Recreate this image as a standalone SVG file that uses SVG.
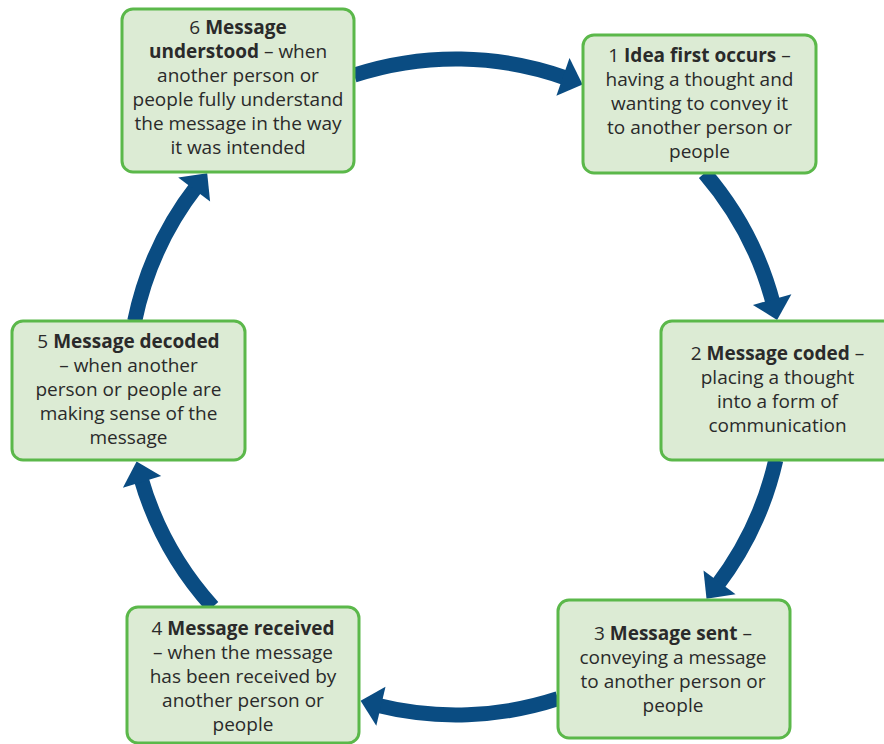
<svg xmlns="http://www.w3.org/2000/svg" width="884" height="744" viewBox="0 0 884 744">
<style>
.box{fill:#dcebd4;stroke:#5bb84a;stroke-width:3}
.t{font-family:"Open Sans","Noto Sans",sans-serif;font-size:19px;fill:#2a2a2a;text-anchor:middle}
.b{font-weight:bold}
.shaft{fill:none;stroke:#0a4c82;stroke-width:15}
.head{fill:#0a4c82}
</style>
<rect width="884" height="744" fill="#ffffff"/>
<g id="connectors">
<path class="shaft" d="M354.1 75.2 A328 328 0 0 1 567.7 78.6"/>
<polygon class="head" points="582.6,84.4 569.5,58.0 556.4,95.8"/>
<path class="shaft" d="M704.6 173 A328 328 0 0 1 773.4 304.4"/>
<polygon class="head" points="777.1,320.0 791.4,294.3 752.9,304.9"/>
<path class="shaft" d="M775.8 460 A328 328 0 0 1 716.6 586.2"/>
<polygon class="head" points="706.5,598.7 735.6,594.2 703.5,570.4"/>
<path class="shaft" d="M558 698.7 A328 328 0 0 1 376.1 705.1"/>
<polygon class="head" points="360.6,700.8 376.3,725.8 385.5,686.8"/>
<path class="shaft" d="M212.7 607 A328 328 0 0 1 140.6 477.1"/>
<polygon class="head" points="136.6,461.6 122.9,487.7 161.2,476.1"/>
<path class="shaft" d="M134.7 321 A328 328 0 0 1 197.2 185.5"/>
<polygon class="head" points="207.2,173.2 178.2,177.4 210.1,201.5"/>
</g>
<g id="node6">
<rect class="box" x="122" y="9" width="232" height="163" rx="11"/>
<text class="t" x="238" y="34">6 <tspan class="b">Message</tspan></text>
<text class="t" x="238" y="58"><tspan class="b">understood</tspan> – when</text>
<text class="t" x="238" y="82">another person or</text>
<text class="t" x="238" y="106">people fully understand</text>
<text class="t" x="238" y="130">the message in the way</text>
<text class="t" x="238" y="154">it was intended</text>
</g>
<g id="node1">
<rect class="box" x="583" y="35" width="233" height="138" rx="11"/>
<text class="t" x="699.5" y="61.5">1 <tspan class="b">Idea first occurs</tspan> –</text>
<text class="t" x="699.5" y="85.5">having a thought and</text>
<text class="t" x="699.5" y="109.5">wanting to convey it</text>
<text class="t" x="699.5" y="133.5">to another person or</text>
<text class="t" x="699.5" y="157.5">people</text>
</g>
<g id="node2">
<rect class="box" x="661" y="321" width="240" height="139" rx="11"/>
<text class="t" x="777.5" y="360">2 <tspan class="b">Message coded</tspan> –</text>
<text class="t" x="777.5" y="384">placing a thought</text>
<text class="t" x="777.5" y="408">into a form of</text>
<text class="t" x="777.5" y="432">communication</text>
</g>
<g id="node3">
<rect class="box" x="558" y="600" width="232" height="138" rx="11"/>
<text class="t" x="673" y="640">3 <tspan class="b">Message sent</tspan> –</text>
<text class="t" x="673" y="664">conveying a message</text>
<text class="t" x="673" y="688">to another person or</text>
<text class="t" x="673" y="712">people</text>
</g>
<g id="node4">
<rect class="box" x="127" y="607" width="232" height="136" rx="11"/>
<text class="t" x="243" y="635">4 <tspan class="b">Message received</tspan></text>
<text class="t" x="243" y="659">– when the message</text>
<text class="t" x="243" y="683">has been received by</text>
<text class="t" x="243" y="707">another person or</text>
<text class="t" x="243" y="731">people</text>
</g>
<g id="node5">
<rect class="box" x="12" y="321" width="233" height="139" rx="11"/>
<text class="t" x="128.5" y="348">5 <tspan class="b">Message decoded</tspan></text>
<text class="t" x="128.5" y="372">– when another</text>
<text class="t" x="128.5" y="396">person or people are</text>
<text class="t" x="128.5" y="420">making sense of the</text>
<text class="t" x="128.5" y="444">message</text>
</g>
</svg>
